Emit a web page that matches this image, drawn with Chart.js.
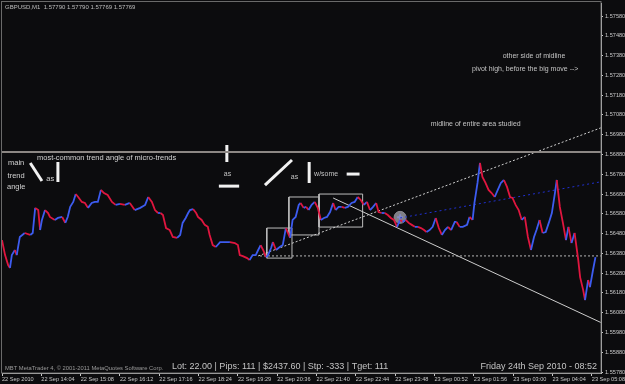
<!DOCTYPE html>
<html>
<head>
<meta charset="utf-8">
<script src="https://cdn.jsdelivr.net/npm/chart.js@4.4.0/dist/chart.umd.min.js"></script>
<style>
  html, body { margin: 0; background: #0c0c0e; }
</style>
</head>
<body>
<canvas id="chart" width="625" height="384"></canvas>
<script>
// time axis labels, one every 64 one-minute bars
const timeLabels = ['22 Sep 2010', '22 Sep 14:04', '22 Sep 15:08', '22 Sep 16:12', '22 Sep 17:16', '22 Sep 18:24',
  '22 Sep 19:29', '22 Sep 20:36', '22 Sep 21:40', '22 Sep 22:44', '22 Sep 23:48', '23 Sep 00:52',
  '23 Sep 01:56', '23 Sep 03:00', '23 Sep 04:04', '23 Sep 05:08'];
const tickBars = [0, 64, 128, 192, 256, 320, 384, 448, 512, 576, 640, 704, 768, 832, 896, 960];
const priceTicks = [1.5578, 1.5588, 1.5598, 1.5608, 1.5618, 1.5628, 1.5638, 1.5648, 1.5658, 1.5668,
  1.5678, 1.5688, 1.5698, 1.5708, 1.5718, 1.5728, 1.5738, 1.5748, 1.5758];

// GBPUSD M1 price (bar index, price)
const barIndex = [0, 5, 10, 13, 16, 21, 24, 29, 37, 46, 50, 54, 59, 62, 65, 70, 75, 78, 86, 91, 98, 103, 107, 111, 116,
  120, 124, 130, 135, 140, 146, 151, 156, 161, 166, 172, 179, 185, 192, 200, 208, 216, 225, 233, 238, 244, 249, 254,
  258, 262, 267, 273, 278, 285, 290, 294, 299, 303, 306, 311, 316, 319, 325, 330, 335, 338, 343, 348, 355, 363, 371,
  379, 384, 387, 392, 399, 403, 408, 413, 417, 421, 425, 430, 433, 438, 441, 446, 452, 457, 462, 469, 473, 478, 483,
  486, 491, 495, 499, 504, 509, 514, 519, 524, 529, 534, 539, 543, 548, 553, 558, 563, 569, 574, 579, 584, 589, 594,
  599, 604, 609, 613, 618, 623, 628, 633, 638, 643, 648, 652, 657, 662, 667, 672, 677, 682, 687, 691, 696, 701, 706,
  711, 716, 721, 726, 731, 737, 740, 745, 750, 757, 761, 766, 769, 774, 778, 782, 787, 792, 797, 802, 807, 812, 817,
  822, 827, 831, 836, 841, 846, 851, 856, 861, 866, 870, 875, 880, 885, 890, 895, 900, 903, 908, 913, 918, 922, 927,
  932, 938, 941, 946, 949, 954, 957, 962, 966, 971];
const closes = [1.56447, 1.56371, 1.56321, 1.56306, 1.56371, 1.56397, 1.56371, 1.56463, 1.56483, 1.56473, 1.56483,
  1.56610, 1.56599, 1.56498, 1.56549, 1.56599, 1.56584, 1.56564, 1.56549, 1.56559, 1.56564, 1.56534, 1.56564,
  1.56615, 1.56640, 1.56680, 1.56665, 1.56640, 1.56635, 1.56610, 1.56635, 1.56640, 1.56640, 1.56701, 1.56685,
  1.56675, 1.56640, 1.56625, 1.56630, 1.56625, 1.56635, 1.56599, 1.56610, 1.56625, 1.56665, 1.56640, 1.56599,
  1.56584, 1.56584, 1.56574, 1.56508, 1.56498, 1.56463, 1.56458, 1.56473, 1.56534, 1.56559, 1.56584, 1.56599,
  1.56604, 1.56584, 1.56564, 1.56549, 1.56524, 1.56514, 1.56473, 1.56422, 1.56412, 1.56437, 1.56437, 1.56437,
  1.56432, 1.56422, 1.56371, 1.56366, 1.56356, 1.56346, 1.56371, 1.56371, 1.56397, 1.56422, 1.56397, 1.56361,
  1.56371, 1.56407, 1.56437, 1.56397, 1.56412, 1.56422, 1.56508, 1.56458, 1.56549, 1.56564, 1.56625, 1.56635,
  1.56610, 1.56615, 1.56599, 1.56625, 1.56640, 1.56610, 1.56549, 1.56559, 1.56564, 1.56589, 1.56635, 1.56599,
  1.56615, 1.56615, 1.56610, 1.56615, 1.56635, 1.56640, 1.56665, 1.56650, 1.56625, 1.56640, 1.56599, 1.56615,
  1.56635, 1.56589, 1.56584, 1.56584, 1.56574, 1.56559, 1.56549, 1.56514, 1.56549, 1.56539, 1.56549, 1.56534,
  1.56524, 1.56514, 1.56514, 1.56508, 1.56498, 1.56488, 1.56498, 1.56514, 1.56559, 1.56508, 1.56473, 1.56498,
  1.56514, 1.56498, 1.56539, 1.56539, 1.56514, 1.56514, 1.56524, 1.56564, 1.56549, 1.56635, 1.56736, 1.56837,
  1.56766, 1.56736, 1.56701, 1.56685, 1.56665, 1.56701, 1.56736, 1.56751, 1.56716, 1.56665, 1.56660, 1.56625,
  1.56599, 1.56549, 1.56564, 1.56463, 1.56397, 1.56463, 1.56498, 1.56549, 1.56483, 1.56488, 1.56534, 1.56584,
  1.56685, 1.56751, 1.56615, 1.56534, 1.56447, 1.56514, 1.56432, 1.56483, 1.56346, 1.56260, 1.56194, 1.56144,
  1.56245, 1.56209, 1.56296, 1.56361];

// drawn objects (bar, price)
const midlinePrice = 1.56892;
const supportPrice = 1.56367;
const supportBars = [420, 975];
const dottedTrendBars = [417, 975];
const dottedTrendPrices = [1.56367, 1.57015];
const solidTrendBars = [539, 975];
const solidTrendPrices = [1.56660, 1.56030];
const blueTrendBars = [648, 975];
const blueTrendPrices = [1.56559, 1.56742];
const pivotBar = 648;
const pivotPrice = 1.56562;
const boxBars = [[431, 472], [467, 516], [516, 587]];
const boxPrices = [[1.56356, 1.56508], [1.56473, 1.56665], [1.56513, 1.56680]];
const strokeBars = [[46, 65], [91, 91], [366, 366], [353, 386], [428, 472], [500, 500], [561, 582]];
const strokePrices = [[1.56837, 1.56746], [1.56842, 1.56741], [1.56928, 1.56842], [1.56720, 1.56720],
  [1.56725, 1.56852], [1.56842, 1.56736], [1.56781, 1.56781]];
const noteTexts = ['main', 'trend', 'angle', 'as', 'most-common trend angle of micro-trends', 'as', 'as', 'w/some',
  'midline of entire area studied', 'other side of midline', 'pivot high, before the big move -->'];
const noteBars = [23, 23, 23, 72, 57, 361, 470, 508, 698, 815, 765];
const notePrices = [1.56837, 1.56771, 1.56715, 1.56756, 1.56862, 1.56781, 1.56766, 1.56781, 1.57034, 1.57378, 1.57312];

const FONT = "'Liberation Sans', Arial, sans-serif";
const line = (xs, ys, color, width, dash) => ({
  data: xs.map((x, i) => ({ x: x, y: ys[i] })),
  borderColor: color, borderWidth: width, borderDash: dash || [],
  pointRadius: 0, fill: false, tension: 0
});

const datasets = [];
// price
datasets.push({
  data: barIndex.map((b, i) => ({ x: b, y: closes[i] })),
  borderWidth: 1.8, pointRadius: 0, tension: 0,
  borderColor: '#e0163f',
  segment: {
    borderColor: ctx => ctx.p1.parsed.y >= ctx.p0.parsed.y ? '#3d5cf0' : '#e0163f'
  }
});
datasets.push(line([0, 975], [midlinePrice, midlinePrice], '#8c8784', 2));
datasets.push(line(supportBars, [supportPrice, supportPrice], '#b8b8b8', 1, [2, 2]));
datasets.push(line(dottedTrendBars, dottedTrendPrices, '#cfcfcf', 1, [2, 2]));
datasets.push(line(solidTrendBars, solidTrendPrices, '#cccccc', 1));
datasets.push(line(blueTrendBars, blueTrendPrices, '#2030d0', 1, [2, 3]));
boxBars.forEach((b, i) => {
  const p = boxPrices[i];
  datasets.push(line([b[0], b[1], b[1], b[0], b[0]], [p[0], p[0], p[1], p[1], p[0]], '#bdbdbd', 1));
});
strokeBars.forEach((b, i) => {
  datasets.push(line(b, strokePrices[i], '#f2f2f2', 3));
});
datasets.push({
  data: [{ x: pivotBar, y: pivotPrice }], showLine: false,
  pointRadius: 6, pointBackgroundColor: 'rgba(165,165,175,0.75)', pointBorderColor: '#8a8a90', pointBorderWidth: 1
});
datasets.push({
  data: [{ x: pivotBar, y: pivotPrice }], showLine: false,
  pointStyle: 'cross', pointRadius: 3, pointBorderColor: '#1e3cff', pointBorderWidth: 2
});

const chrome = {
  id: 'chrome',
  beforeDraw(chart) {
    const c = chart.ctx;
    c.save();
    c.fillStyle = '#0c0c0e';
    c.fillRect(0, 0, chart.width, chart.height);
    c.restore();
  },
  afterDatasetsDraw(chart) {
    const c = chart.ctx;
    const xs = chart.scales.x, ys = chart.scales.y;
    const a = chart.chartArea;
    c.save();
    c.strokeStyle = '#6a6a6a';
    c.lineWidth = 1;
    c.strokeRect(1.5, 1.5, a.right - 1.5, a.bottom - 1.5);
    c.textBaseline = 'middle';
    noteTexts.forEach((t, i) => {
      c.font = (i < 5 ? '7.5px ' : '7px ') + FONT;
      c.fillStyle = i < 5 ? '#d2d2d2' : '#c4c4c4';
      c.textAlign = i < 3 ? 'center' : 'left';
      c.fillText(t, xs.getPixelForValue(noteBars[i]), ys.getPixelForValue(notePrices[i]));
    });
    c.textAlign = 'left';
    c.font = '6px ' + FONT;
    c.fillStyle = '#bdbdbd';
    c.fillText('GBPUSD,M1  1.57790 1.57790 1.57769 1.57769', a.left + 3, 7);
    c.font = '5.8px ' + FONT;
    c.fillStyle = '#9a9a9a';
    c.fillText('MBT MetaTrader 4, \u00a9 2001-2011 MetaQuotes Software Corp.', a.left + 3, a.bottom - 5);
    c.font = '9px ' + FONT;
    c.fillStyle = '#c4c4c4';
    c.fillText('Lot: 22.00 | Pips: 111 | $2437.60 | Stp: -333 | Tget: 111', 172, a.bottom - 6);
    c.textAlign = 'right';
    c.fillText('Friday 24th Sep 2010 - 08:52', a.right - 4, a.bottom - 6);
    c.restore();
  }
};

new Chart(document.getElementById('chart'), {
  type: 'line',
  data: { datasets: datasets },
  plugins: [chrome],
  options: {
    responsive: false,
    animation: false,
    layout: { autoPadding: false, padding: { left: 2, top: 3, right: 0, bottom: 0 } },
    plugins: { legend: { display: false }, tooltip: { enabled: false } },
    scales: {
      x: {
        type: 'linear', min: 0, max: 975,
        afterBuildTicks: s => { s.ticks = tickBars.map(v => ({ value: v })); },
        afterFit: s => { s.height = 11; s.paddingLeft = 0; s.paddingRight = 0; },
        ticks: {
          autoSkip: false, maxRotation: 0, align: 'start', padding: 0,
          color: '#c8c8c8', font: { size: 5.6, family: FONT },
          callback: (v, i) => timeLabels[i]
        },
        grid: { drawOnChartArea: false, color: '#c8c8c8', tickLength: 3 },
        border: { color: '#c8c8c8' }
      },
      y: {
        position: 'right', min: 1.55775, max: 1.57646,
        afterBuildTicks: s => { s.ticks = priceTicks.map(v => ({ value: v })); },
        afterFit: s => { s.width = 24; s.paddingTop = 0; s.paddingBottom = 0; },
        ticks: {
          autoSkip: false, padding: 2,
          color: '#c8c8c8', font: { size: 5.6, family: FONT },
          callback: v => v.toFixed(5)
        },
        grid: { drawOnChartArea: false, color: '#c8c8c8', tickLength: 2 },
        border: { color: '#d4d4d4' }
      }
    }
  }
});
</script>
</body>
</html>
